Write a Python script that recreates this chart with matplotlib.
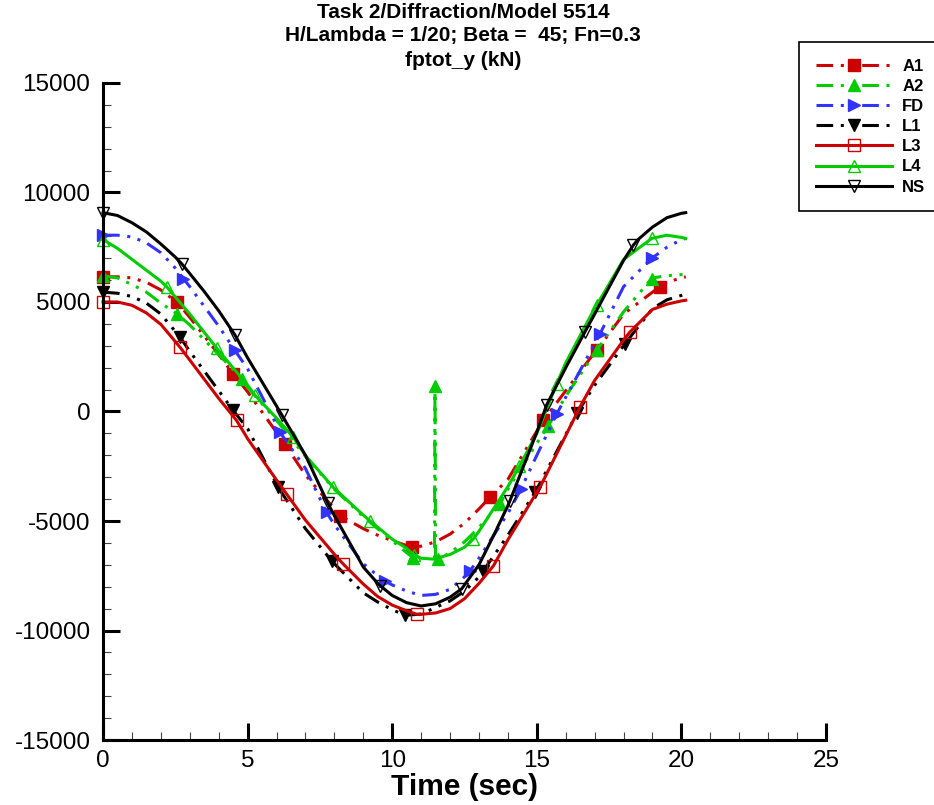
#!/usr/bin/env python3
"""fptot_y time series, Task 2 / Diffraction / Model 5514"""
import matplotlib.pyplot as plt
from matplotlib.ticker import MultipleLocator

plt.rcParams['font.family'] = ['Liberation Sans', 'DejaVu Sans']
plt.rcParams['axes.unicode_minus'] = False
plt.rcParams['lines.scale_dashes'] = False

# values (time in sec, force in kN)
t_A1 = [0, 0.5, 1, 1.5, 2, 2.55, 3, 4, 4.5, 5, 6, 6.29, 7, 8, 8.2, 9, 9.5, 10, 10.5,
        10.67, 11, 11.5, 12, 12.5, 13, 13.38, 14, 15, 15.23, 16, 17, 17.07, 18, 19,
        19.26, 19.5, 20, 20.15]
v_A1 = [6150, 6150, 6100, 5900, 5550, 5000, 4300, 2600, 1720, 900, -950, -1500,
        -2900, -4450, -4760, -5350, -5650, -5900, -6120, -6200, -6150, -5950, -5600,
        -5100, -4450, -3920, -3100, -900, -410, 950, 2700, 2790, 4450, 5450, 5690,
        5900, 6100, 6150]
mk_A1 = [0, 2.55, 4.5, 6.29, 8.2, 10.67, 13.38, 15.23, 17.07, 19.26]

t_A2 = [0, 0.5, 1, 1.5, 2, 2.55, 3, 4, 4.8, 5, 6, 7, 8, 9, 10, 10.5, 10.73, 11,
        11.46, 11.48, 11.5, 11.6, 12, 12.5, 13, 13.73, 14, 15, 15.4, 16, 17, 17.07,
        18, 18.97, 19, 19.5, 20, 20.15]
v_A2 = [6200, 6100, 5800, 5450, 4950, 4470, 3950, 2600, 1500, 1100, -400, -2050,
        -3550, -4800, -5900, -6450, -6670, -6700, -6720, 1150, -6720, -6740, -6450,
        -5950, -5300, -4220, -3550, -1450, -650, 700, 2650, 2790, 4550, 6070, 6100,
        6200, 6250, 6250]
mk_A2 = [0, 2.55, 4.8, 10.73, 11.48, 11.6, 13.73, 15.4, 17.07, 18.97]

t_FD = [0, 0.5, 1, 1.5, 2, 2.5, 2.78, 3, 4, 4.56, 5, 6, 6.12, 7, 7.73, 8, 9, 9.5,
        9.75, 10, 10.5, 11, 11.5, 12, 12.5, 12.69, 13, 14, 14.45, 15, 15.69, 16, 17,
        17.19, 18, 18.97, 19.5, 20, 20.15]
v_FD = [8050, 8050, 7970, 7700, 7250, 6550, 6070, 5700, 3900, 2790, 1950, -600,
        -950, -2600, -4610, -5170, -6950, -7500, -7740, -7920, -8200, -8400, -8350,
        -8120, -7550, -7280, -6700, -4650, -3550, -2000, -110, 650, 3100, 3560, 5700,
        6990, 7500, 7850, 7900]
mk_FD = [0, 2.78, 4.56, 6.12, 7.73, 9.75, 12.69, 14.45, 15.69, 17.19, 18.97]

t_L1 = [0, 0.5, 1, 1.5, 2, 2.66, 3, 4, 4.5, 5, 6, 6.06, 7, 7.91, 8, 9, 9.5, 10,
        10.44, 10.5, 11, 11.5, 12, 12.5, 13, 13.15, 14, 14.94, 15, 16, 16.4, 17, 18,
        18.05, 19, 19.5, 20, 20.15]
v_L1 = [5450, 5400, 5250, 4950, 4450, 3400, 2750, 950, 50, -780, -3300, -3470,
        -5350, -6820, -6950, -8280, -8700, -9050, -9300, -9300, -9250, -8950, -8650,
        -8200, -7560, -7280, -5650, -3690, -3550, -1050, -60, 1200, 3000, 3100, 4700,
        5100, 5300, 5380]
mk_L1 = [0, 2.66, 4.5, 6.06, 7.91, 10.44, 13.15, 14.94, 16.4, 18.05]

t_L3 = [0, 0.5, 1, 1.5, 2, 2.66, 3, 4, 4.62, 5, 6, 6.35, 7, 8, 8.31, 9, 9.5, 10,
        10.5, 10.85, 11, 11.5, 12, 12.5, 13, 13.5, 14, 15, 15.11, 16, 16.49, 17, 18,
        18.22, 19, 19.5, 20, 20.15]
v_L3 = [5000, 5000, 4850, 4500, 3980, 2940, 2350, 600, -410, -1240, -3130, -3770,
        -4960, -6520, -6970, -7880, -8450, -8840, -9100, -9260, -9260, -9200, -9000,
        -8550, -7850, -7050, -5860, -3690, -3460, -1100, 200, 1420, 3260, 3630, 4660,
        4900, 5050, 5080]
mk_L3 = [0, 2.66, 4.62, 6.35, 8.31, 10.85, 13.5, 15.11, 16.49, 18.22]

t_L4 = [0, 0.5, 1, 1.5, 2, 2.2, 3, 3.93, 4, 5, 5.25, 6, 6.58, 7, 7.96, 8, 9, 9.23,
        10, 10.5, 10.75, 11, 11.42, 12, 12.5, 12.8, 13, 14, 14.4, 15, 15.69, 16, 17,
        17.07, 18, 18.97, 19, 19.5, 20, 20.15]
v_L4 = [7850, 7450, 6950, 6450, 5950, 5700, 4450, 2900, 2780, 1200, 750, -300,
        -1180, -2010, -3460, -3510, -4730, -4990, -5830, -6250, -6550, -6700, -6740,
        -6530, -6200, -5830, -5470, -3430, -2500, -1000, 1270, 2220, 4710, 4850,
        6940, 7900, 7910, 8050, 7950, 7900]
mk_L4 = [0, 2.2, 3.93, 5.25, 6.58, 7.96, 9.23, 10.75, 12.8, 14.4, 15.69, 17.07, 18.97]

t_NS = [0, 0.5, 1, 1.5, 2, 2.5, 2.72, 3, 3.5, 4, 4.56, 5, 6, 6.18, 7, 7.78, 8, 9,
        9.5, 9.58, 10, 10.5, 11, 11.5, 12, 12.4, 13, 13.5, 14, 14.07, 15, 15.34, 16,
        16.67, 17, 18, 18.34, 18.5, 19, 19.5, 20, 20.15]
v_NS = [9080, 8950, 8620, 8200, 7650, 7050, 6750, 6300, 5480, 4600, 3500, 2450,
        250, -150, -2000, -4200, -4750, -7100, -7850, -7950, -8400, -8730, -8880,
        -8780, -8480, -8100, -7000, -5680, -4300, -4080, -950, 300, 2000, 3650, 4450,
        6900, 7600, 7850, 8420, 8850, 9050, 9080]
mk_NS = [0, 2.72, 4.56, 6.18, 7.78, 9.58, 12.4, 14.07, 15.34, 16.67, 18.34]

title_lines = ["Task 2/Diffraction/Model 5514",
               "H/Lambda = 1/20; Beta =  45; Fn=0.3",
               "fptot_y (kN)"]

RED = '#cc0000'
GREEN = '#00cc00'
BLUE = '#3333ff'
BLACK = '#000000'
DDOT = (0, (12, 5.5, 2.2, 5.5, 2.2, 5.5))

series = [
    ("A1", t_A1, v_A1, mk_A1, RED, DDOT, 's', True),
    ("A2", t_A2, v_A2, mk_A2, GREEN, DDOT, '^', True),
    ("FD", t_FD, v_FD, mk_FD, BLUE, DDOT, '>', True),
    ("L1", t_L1, v_L1, mk_L1, BLACK, DDOT, 'v', True),
    ("L3", t_L3, v_L3, mk_L3, RED, '-', 's', False),
    ("L4", t_L4, v_L4, mk_L4, GREEN, '-', '^', False),
    ("NS", t_NS, v_NS, mk_NS, BLACK, '-', 'v', False),
]

W, H = 934, 805
fig = plt.figure(figsize=(W / 100, H / 100), dpi=100)
ax = fig.add_axes([103 / W, 65 / H, 723 / W, 657 / H])

for name, t, v, mk, color, ls, marker, filled in series:
    every = [t.index(m) for m in mk]
    ax.plot(t, v, color=color, linestyle=ls, lw=2.2, marker=marker, ms=9,
            markevery=every, mfc=color if filled else 'none', mec=color,
            mew=1.0, label=name, clip_on=False, solid_joinstyle='round')

ax.set_xlim(0, 25)
ax.set_ylim(-15000, 15000)
ax.xaxis.set_major_locator(MultipleLocator(5))
ax.xaxis.set_minor_locator(MultipleLocator(1))
ax.yaxis.set_major_locator(MultipleLocator(5000))
ax.yaxis.set_minor_locator(MultipleLocator(1000))
for side in ['top', 'right']:
    ax.spines[side].set_visible(False)
for side in ['left', 'bottom']:
    ax.spines[side].set_linewidth(2.2)
ax.tick_params(which='major', direction='in', length=12, width=2.2,
               labelsize=17.5, pad=7)
ax.tick_params(which='minor', direction='in', length=6, width=0.8,
               color='#444444')
ax.tick_params(axis='y', which='major', pad=9)

ax.set_xlabel("Time (sec)", fontsize=21.5, fontweight='bold', labelpad=1)

for i, line in enumerate(title_lines):
    fig.text(463 / W, 1 - (12 + 24 * i) / H, line, ha='center', va='center',
             fontsize=15, fontweight='bold')

leg = ax.legend(loc='upper left', bbox_to_anchor=(799 / W, 1 - 42 / H),
                bbox_transform=fig.transFigure, borderaxespad=0,
                fancybox=False, edgecolor='black', framealpha=1,
                prop={'size': 12, 'weight': 'bold'}, numpoints=1,
                handlelength=4.6, handletextpad=0.6, borderpad=1.0,
                labelspacing=0.31)
leg.get_frame().set_linewidth(1.2)

fig.savefig('out.png', dpi=100)
